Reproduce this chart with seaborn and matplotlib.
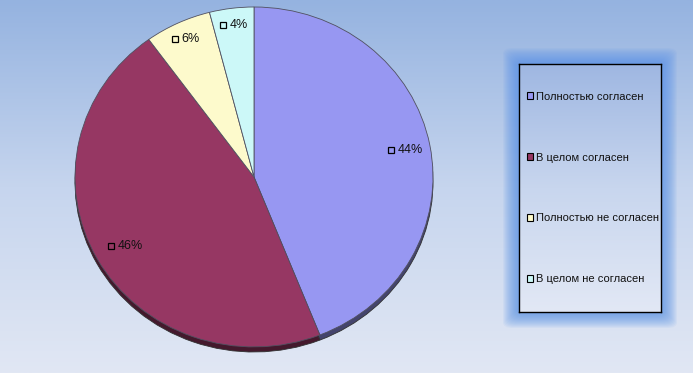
import numpy as np
import matplotlib
matplotlib.use("Agg")
import matplotlib.pyplot as plt
import seaborn as sns
from matplotlib.colors import LinearSegmentedColormap, to_rgb
from matplotlib.patches import Patch, FancyBboxPatch

categories = ["Полностью согласен", "В целом согласен", "Полностью не согласен", "В целом не согласен"]
values = [44, 46, 6, 4]
colors = ["#9797f2", "#963763", "#fdfacc", "#ccf8f8"]

sns.set_theme(style="white")
plt.rcParams['font.family'] = ['Liberation Sans', 'DejaVu Sans']

W, H = 693, 373
fig = plt.figure(figsize=(W / 100, H / 100), dpi=100)

# background gradient
bg = fig.add_axes([0, 0, 1, 1])
grad = np.linspace(0, 1, 256).reshape(-1, 1)
bg.imshow(grad, aspect='auto', extent=[0, 1, 0, 1], origin='lower',
          cmap=LinearSegmentedColormap.from_list('bg', ["#e1e7f4", "#c6d5ee", "#95b3e0"]))
bg.set_xlim(0, 1)
bg.set_ylim(0, 1)
bg.axis('off')

# legend glow
lx0, ly0, lw, lh = 519, 61, 142, 248
for k in range(16, 0, -1):
    bg.add_patch(FancyBboxPatch(((lx0 - k) / W, (ly0 - k) / H), (lw + 2 * k) / W, (lh + 2 * k) / H,
                                boxstyle="round,pad=0,rounding_size=0.015",
                                facecolor="#5a93e6", edgecolor='none', alpha=0.075, zorder=2))

# pie
ax = fig.add_axes([75 / W, 21 / H, 358 / W, 345 / H])
dark = [tuple(np.array(to_rgb(c)) * 0.45) for c in colors]
ax.pie(values, colors=dark, startangle=90, counterclock=False, center=(0, -0.03),
       wedgeprops=dict(linewidth=0.6, edgecolor="#303030"))
wedges, _ = ax.pie(values, colors=colors, startangle=90, counterclock=False,
                   wedgeprops=dict(linewidth=0.6, edgecolor="#505060"))
ax.set_aspect('auto')
ax.set_xlim(-1, 1)
ax.set_ylim(-1.03, 1)
ax.axis('off')

for w, v in zip(wedges, values):
    ang = np.deg2rad((w.theta1 + w.theta2) / 2)
    r = 0.84 if v > 20 else 0.9
    x, y = r * np.cos(ang), r * np.sin(ang)
    ax.plot([x - 0.06], [y], marker='s', ms=5, mfc='none', mec='black', mew=0.9, ls='none')
    ax.text(x - 0.025, y, f"{v}%", ha='left', va='center', fontsize=9, color='#111111')

# legend box
lax = fig.add_axes([lx0 / W, ly0 / H, lw / W, lh / H])
lax.imshow(grad, aspect='auto', extent=[0, 1, 0, 1], origin='lower',
           cmap=LinearSegmentedColormap.from_list('lg', ["#e2e8f5", "#c8d6ee", "#9fb7e2"]))
lax.set_xlim(0, 1)
lax.set_ylim(0, 1)
lax.set_xticks([])
lax.set_yticks([])
for s in lax.spines.values():
    s.set_visible(True)
    s.set_color('black')
    s.set_linewidth(1.0)
handles = [Patch(facecolor=c, edgecolor='black', linewidth=0.8) for c in colors]
lax.legend(handles, categories, loc='center left', bbox_to_anchor=(0.0, 0.5), frameon=False,
           fontsize=8, handlelength=0.6, handleheight=0.6, handletextpad=0.25,
           labelspacing=4.58, borderaxespad=0.3, labelcolor='#111111')

fig.savefig("out.png", dpi=100)
